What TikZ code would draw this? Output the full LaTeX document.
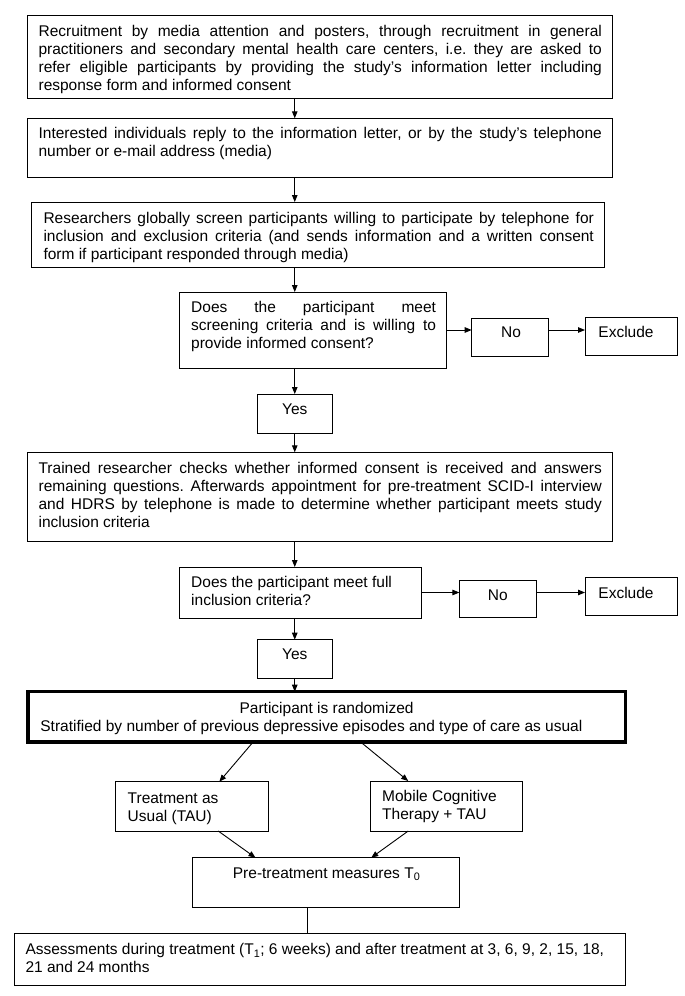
\documentclass[tikz,border=0pt]{standalone}
\usepackage{fontspec}
\setmainfont{Liberation Sans}
\usetikzlibrary{arrows.meta,calc}
\frenchspacing
\begin{document}
\begin{tikzpicture}[x=1pt,y=-1pt,
  box/.style={draw, line width=0.9pt, inner sep=0pt, outer sep=0pt, anchor=north west},
  thickbox/.style={draw, line width=3.4pt, inner sep=0pt, outer sep=0pt, anchor=north west},
  txt/.style={inner sep=0pt, anchor=north west, align=justify,
    font={\fontsize{15.5}{18}\selectfont\frenchspacing\tolerance=10000\hyphenpenalty=10000}},
  ltxt/.style={inner sep=0pt, anchor=north west, align=left,
    font={\fontsize{15.5}{18}\selectfont\frenchspacing}},
  lbl/.style={inner sep=0pt, anchor=base, font={\fontsize{15.5}{18}\selectfont}},
  arr/.style={line width=0.9pt, -{Triangle[length=7pt,width=5.5pt]}},
  ln/.style={line width=0.9pt}]
\useasboundingbox (0,0) rectangle (685,996);
\fill[white] (0,0) rectangle (685,996);

% boxes
\node[box, minimum width=585.4pt, minimum height=82.6pt] (b1) at (27.1,15.7) {};
\node[box, minimum width=585.4pt, minimum height=59.4pt] (b2) at (27.1,118.3) {};
\node[box, minimum width=572.7pt, minimum height=65pt] (b3) at (31.9,202) {};
\node[box, minimum width=266.8pt, minimum height=76pt] (d1) at (179.9,292) {};
\node[box, minimum width=76.8pt, minimum height=38pt] (no1) at (471.7,318) {};
\node[box, minimum width=92pt, minimum height=38pt] (ex1) at (585,317) {};
\node[box, minimum width=75.5pt, minimum height=39pt] (y1) at (257,394) {};
\node[box, minimum width=585.4pt, minimum height=89.4pt] (b5) at (27.1,452.3) {};
\node[box, minimum width=241.6pt, minimum height=51pt] (d2) at (179.9,567) {};
\node[box, minimum width=76.9pt, minimum height=37pt] (no2) at (459.4,580) {};
\node[box, minimum width=92pt, minimum height=38pt] (ex2) at (585,577) {};
\node[box, minimum width=75.5pt, minimum height=39pt] (y2) at (257,639.7) {};
\node[thickbox, minimum width=597.4pt, minimum height=50.3pt] (rnd) at (27.9,691.7) {};
\node[box, minimum width=152.8pt, minimum height=49.3pt] (tau) at (115.7,781.7) {};
\node[box, minimum width=152.7pt, minimum height=50pt] (mct) at (370.2,781) {};
\node[box, minimum width=267.9pt, minimum height=50pt] (pre) at (192,857.7) {};
\node[box, minimum width=610.9pt, minimum height=51.3pt] (ass) at (14.4,933.7) {};

% texts
\node[txt, text width=563.3pt] (t1) at (38.4,23.9) {\strut Recruitment by media attention and posters, through recruitment in general\linebreak practitioners and secondary mental health care centers, i.e. they are asked to\linebreak refer eligible participants by providing the study's information letter including\linebreak response form and informed consent};
\node[txt, text width=563.3pt] (t2) at (38.4,125.9) {\strut Interested individuals reply to the information letter, or by the study's telephone\linebreak number or e-mail address (media)};
\node[txt, text width=550.4pt] (t3) at (43.3,210.9) {\strut Researchers globally screen participants willing to participate by telephone for\linebreak inclusion and exclusion criteria (and sends information and a written consent\linebreak form if participant responded through media)};
\node[txt, text width=244.8pt] (td1) at (191,299.9) {\strut Does the participant meet\linebreak screening criteria and is willing to\linebreak provide informed consent?};
\node[lbl] (tno1) at (511,337.5) {No};
\node[lbl] (tex1) at (626,337.5) {Exclude};
\node[lbl] (ty1) at (294.75,414.5) {Yes};
\node[txt, text width=563.3pt] (t5) at (38.4,460.9) {\strut Trained researcher checks whether informed consent is received and answers\linebreak remaining questions. Afterwards appointment for pre-treatment SCID-I interview\linebreak and HDRS by telephone is made to determine whether participant meets study\linebreak inclusion criteria};
\node[ltxt] (td2) at (191,574.9) {\strut Does the participant meet full\\inclusion criteria?};
\node[lbl] (tno2) at (497.8,600.2) {No};
\node[lbl] (tex2) at (626,598.2) {Exclude};
\node[lbl] (ty2) at (294.75,659.5) {Yes};
\node[lbl] (tr1) at (326.6,713.5) {Participant is randomized};
\node[lbl, anchor=base west] (tr2) at (40.2,731.5) {Stratified by number of previous depressive episodes and type of care as usual};
\node[ltxt] (ttau) at (127.5,790.5) {\strut Treatment as\\Usual (TAU)};
\node[ltxt] (tmct) at (382,789) {\strut Mobile Cognitive\\Therapy + TAU};
\node[lbl] (tpre) at (326.6,878) {Pre-treatment measures T\textsubscript{0}};
\node[ltxt] (tass) at (25.3,942) {\strut Assessments during treatment (T\textsubscript{1}; 6 weeks) and after treatment at 3, 6, 9, 2, 15, 18,\\21 and 24 months};

% connectors
\draw[arr] (b1.south -| y1.center) -- (b2.north -| y1.center);
\draw[arr] (b2.south -| y1.center) -- (b3.north -| y1.center);
\draw[arr] (b3.south -| y1.center) -- (d1.north -| y1.center);
\draw[arr] (d1.east) -- (d1.east -| no1.west);
\draw[arr] (no1.east |- d1.east) -- (ex1.west |- d1.east);
\draw[arr] (d1.south -| y1.center) -- (y1.north);
\draw[arr] (y1.south) -- (b5.north -| y1.center);
\draw[arr] (b5.south -| y1.center) -- (d2.north -| y1.center);
\draw[arr] (d2.east) -- (d2.east -| no2.west);
\draw[arr] (no2.east |- d2.east) -- (ex2.west |- d2.east);
\draw[arr] (d2.south -| y2.center) -- (y2.north);
\draw[arr] (y2.south) -- (rnd.north -| y2.center);
\draw[arr] ($(rnd.south west)!0.377!(rnd.south east)$) -- ($(tau.north west)!0.678!(tau.north east)$);
\draw[arr] ($(rnd.south west)!0.557!(rnd.south east)$) -- ($(mct.north west)!0.249!(mct.north east)$);
\draw[arr] ($(tau.south west)!0.671!(tau.south east)$) -- ($(pre.north west)!0.237!(pre.north east)$);
\draw[arr] ($(mct.south west)!0.249!(mct.south east)$) -- ($(pre.north west)!0.669!(pre.north east)$);
\coordinate (pl) at ($(pre.south west)!0.43!(pre.south east)$);
\draw[ln] (pl) -- (pl |- ass.north);
\end{tikzpicture}
\end{document}
